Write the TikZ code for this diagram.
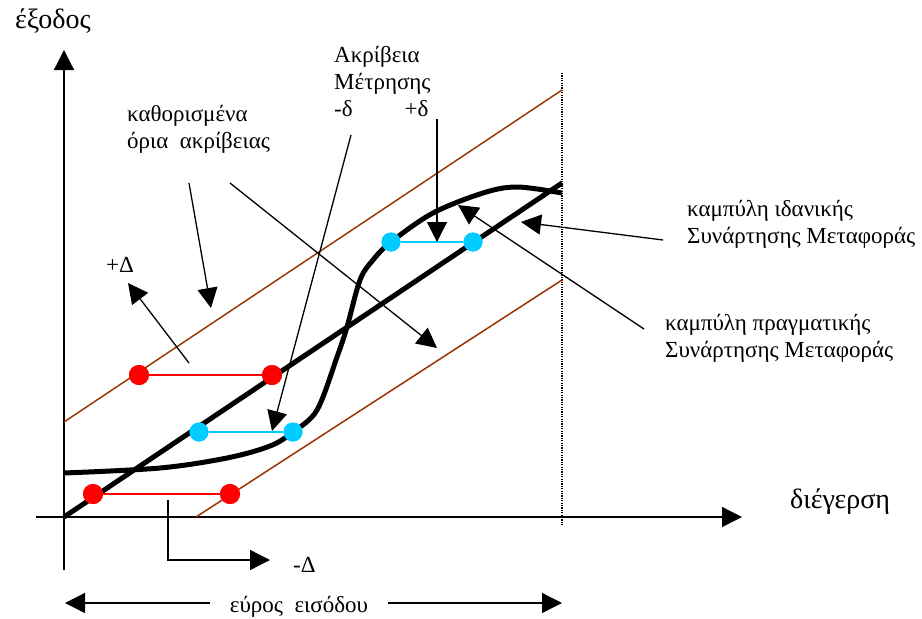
\documentclass[tikz,border=0pt]{standalone}
\usepackage{fontspec}
\setmainfont{Liberation Serif}
\usetikzlibrary{arrows.meta}
\definecolor{boundbrown}{RGB}{153,51,0}
\definecolor{tolcyan}{RGB}{0,204,255}

\begin{document}
\begin{tikzpicture}[x=1pt, y=-1pt, >={Triangle[length=20pt,width=20pt]},
    lbl/.style={inner sep=0pt, align=left, font=\fontsize{23}{27}\selectfont},
    biglbl/.style={inner sep=0pt, font=\fontsize{28}{33}\selectfont},
    ann/.style={->, line width=1.3pt},
    bound/.style={boundbrown, line width=1.5pt},
    heavy/.style={line width=5pt},
    reddot/.style={circle, fill=red, inner sep=0pt, minimum size=20pt},
    cyandot/.style={circle, fill=tolcyan, inner sep=0pt, minimum size=19pt}]
    \useasboundingbox (0,0) rectangle (922,619);

    % axes
    \coordinate (O) at (64,517);
    \coordinate (yBot) at (64,570);
    \coordinate (yTop) at (64,50);
    \coordinate (xLeft) at (36,517);
    \coordinate (xRight) at (742,517);
    \draw[->, line width=1.3pt] (yBot) -- (yTop);
    \draw[->, line width=1.3pt] (xLeft) -- (xRight);
    \node[biglbl, anchor=base west] (outLbl) at (15,28) {έξοδος};
    \node[biglbl, anchor=base west] (inLbl) at (790,508) {διέγερση};

    % end of input range
    \coordinate (rangeTop) at (562,73);
    \coordinate (rangeBot) at (562,525);
    \draw[line width=1.2pt, dash pattern=on 1.2pt off 1.2pt] (rangeTop) -- (rangeBot);

    % accuracy limits
    \coordinate (upA) at (64,422);
    \coordinate (upB) at (562,90);
    \coordinate (loA) at (196,517);
    \coordinate (loB) at (562,280);
    \draw[bound] (upA) -- (upB);
    \draw[bound] (loA) -- (loB);

    % ideal and real curves
    \coordinate (ideEnd) at (562,183);
    \draw[heavy] (O) -- (ideEnd);
    \draw[heavy] plot[smooth, tension=0.55] coordinates {(64,473) (160,468) (227,458)
        (270,446) (293,432) (317,410) (337,357) (347,327) (360,280) (373,260) (391,242)
        (433,213) (483,193) (517,187) (562,193)};

    % tolerance points
    \foreach \n/\x/\y in {rA/93/494, rB/230/494, rC/139/375, rD/272/375}
        \node[reddot] (\n) at (\x,\y) {};
    \foreach \n/\x/\y in {cA/199/432, cB/293/432, cC/391/242, cD/473/242}
        \node[cyandot] (\n) at (\x,\y) {};
    \draw[red, line width=2pt] (rA) -- (rB);
    \draw[red, line width=2pt] (rC) -- (rD);
    \draw[tolcyan, line width=2pt] (cA) -- (cB);
    \draw[tolcyan, line width=2pt] (cC) -- (cD);
    \foreach \n/\x/\y in {rA/93/494, rB/230/494, rC/139/375, rD/272/375}
        \node[reddot] at (\x,\y) {};
    \foreach \n/\x/\y in {cA/199/432, cB/293/432, cC/391/242, cD/473/242}
        \node[cyandot] at (\x,\y) {};

    % labels
    \node[lbl, anchor=base west] (accLbl) at (334,116) {Ακρίβεια\\Μέτρησης\\-δ\hspace{52pt}+δ};
    \node[lbl, anchor=base west] (limLbl) at (127,148) {καθορισμένα\\όρια\ \ ακρίβειας};
    \node[lbl, anchor=base west] (ideLbl) at (687,243) {καμπύλη ιδανικής\\Συνάρτησης Μεταφοράς};
    \node[lbl, anchor=base west] (reaLbl) at (665,357) {καμπύλη πραγματικής\\Συνάρτησης Μεταφοράς};
    \node[lbl, anchor=base west] (plusD) at (106,272) {+Δ};
    \node[lbl, anchor=base west] (minusD) at (293,572) {-Δ};
    \node[lbl, anchor=base, inner xsep=20pt] (range) at (299,612) {εύρος\ \ εισόδου};

    % pointers
    \coordinate (pDS) at (189,363);  \coordinate (pDT) at (128,283);
    \coordinate (l1S) at (189,183);  \coordinate (l1T) at (211,308);
    \coordinate (l2S) at (230,183);  \coordinate (l2T) at (437,348);
    \coordinate (mdS) at (351,135);  \coordinate (mdT) at (272,431);
    \coordinate (pdS) at (437,119);  \coordinate (pdT) at (437,242);
    \coordinate (ideS) at (663,240); \coordinate (ideT) at (521,222);
    \coordinate (reaS) at (644,329); \coordinate (reaT) at (458,205);
    \coordinate (mDS) at (168,500);  \coordinate (mDT) at (270,560);
    \draw[ann] (pDS) -- (pDT);
    \draw[ann] (l1S) -- (l1T);
    \draw[ann] (l2S) -- (l2T);
    \draw[ann] (mdS) -- (mdT);
    \draw[ann] (pdS) -- (pdT);
    \draw[ann] (ideS) -- (ideT);
    \draw[ann] (reaS) -- (reaT);
    \draw[ann] (mDS) |- (mDT);

    % input range
    \coordinate (rangeL) at (65,603);
    \coordinate (rangeR) at (562,603);
    \draw[ann] (range.west |- rangeL) -- (rangeL);
    \draw[ann] (range.east |- rangeR) -- (rangeR);
\end{tikzpicture}
\end{document}
